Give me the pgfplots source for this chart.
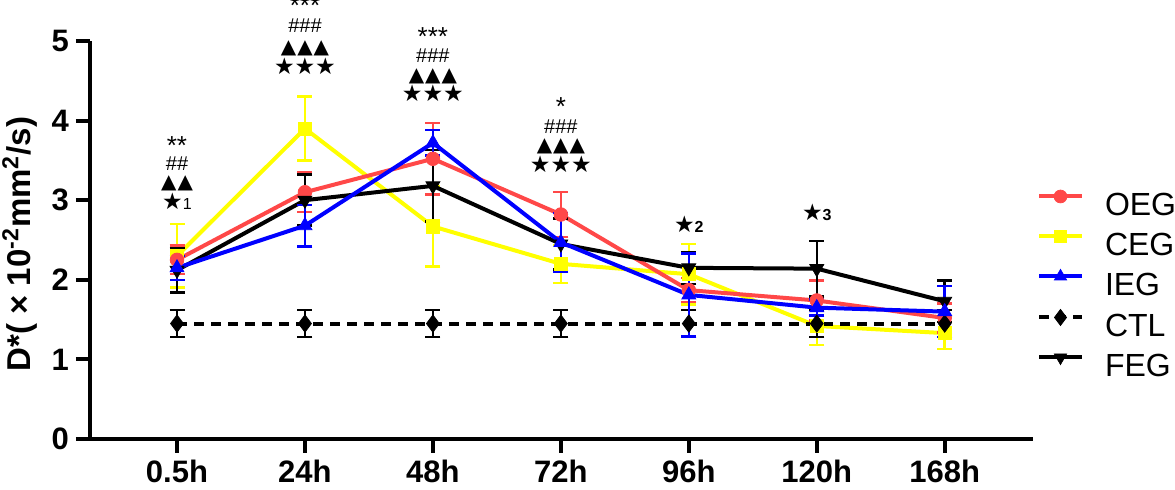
\documentclass[border=0pt]{standalone}
\usepackage{fontspec}
\setmainfont{Liberation Sans}
\newfontfamily\sym{DejaVu Sans}
\usepackage{pgfplots}
\usepackage{pgfplotstable}
\pgfplotsset{compat=1.18}
\definecolor{cred}{RGB}{255,72,72}
\definecolor{cyel}{RGB}{255,255,0}
\definecolor{cblue}{RGB}{0,0,255}

\pgfplotstableread{
x y e
0 2.25 0.18
1 3.10 0.25
2 3.52 0.45
3 2.82 0.28
4 1.87 0.15
5 1.74 0.25
6 1.52 0.18
}\oeg
\pgfplotstableread{
x y e
0 2.30 0.40
1 3.90 0.40
2 2.67 0.50
3 2.20 0.24
4 2.07 0.38
5 1.42 0.24
6 1.33 0.20
}\ceg
\pgfplotstableread{
x y e
0 2.15 0.15
1 2.68 0.26
2 3.72 0.16
3 2.47 0.37
4 1.81 0.52
5 1.65 0.10
6 1.60 0.32
}\ieg
\pgfplotstableread{
x y e
0 1.45 0.17
1 1.45 0.17
2 1.45 0.17
3 1.45 0.17
4 1.45 0.17
5 1.45 0.17
6 1.45 0.17
}\ctl
\pgfplotstableread{
x y e
0 2.12 0.28
1 3.00 0.32
2 3.18 0.45
3 2.45 0.32
4 2.15 0.20
5 2.14 0.35
6 1.73 0.26
}\feg

\newcommand{\stars}[1]{{\sym\fontsize{11.5}{12}\selectfont\ifcase#1\or ★\or ★★\or ★★★\fi}}
\newcommand{\tris}[1]{{\sym\ifcase#1\or ▲\or ▲\kern0.5pt▲\or ▲\kern0.5pt▲\kern0.5pt▲\fi}}

\begin{document}
\begin{tikzpicture}
\useasboundingbox (-45pt,-25.5pt) rectangle (542.5pt,219.5pt);
\begin{axis}[
  at={(0,0)}, anchor=south west,
  scale only axis, width=471.5pt, height=199pt,
  xmin=-0.68, xmax=6.69, ymin=0, ymax=5,
  axis lines*=left,
  axis line style={line width=2pt,-},
  xtick={0,...,6}, xticklabels={0.5h,24h,48h,72h,96h,120h,168h},
  ytick={0,...,5}, yticklabels={0,1,2,3,4,5},
  tick align=outside, major tick length=7pt,
  tick style={line width=2pt, black},
  ticklabel style={font=\fontsize{15.5}{18}\selectfont\bfseries},
  clip=false,
  every axis y label/.style={at={([xshift=-35pt]rel axis cs:0,0.49)}, rotate=90, anchor=center},
  ylabel={\fontsize{16.5}{19}\selectfont\bfseries D*( × 10\textsuperscript{-2}mm\textsuperscript{2}/s)},
  legend style={at={(rel axis cs:1,0.392)}, anchor=west, draw=none, fill=none,
    inner sep=0pt, outer sep=0pt, row sep=7pt, font=\fontsize{16}{19}\selectfont,
    nodes={inner sep=0pt, outer sep=0pt, text height=12pt, text depth=0pt}},
  legend cell align=left,
  legend image code/.code={
    \draw[mark repeat=2, mark phase=2, #1] plot coordinates {(2pt,3.5pt) (12.75pt,3.5pt) (23.5pt,3.5pt)};
    \path (0pt,6pt) (34pt,6pt);
  },
  every axis plot/.append style={line width=2pt},
  error bars/y dir=both, error bars/y explicit,
]
% drawing order: CEG, OEG, CTL, FEG, IEG
\addplot[cyel, mark=square*, mark size=3.3pt, mark options={line width=0.4pt},
  error bars/error bar style={line width=1.25pt, cyel},
  error bars/error mark options={rotate=90, mark size=3.75pt, line width=1.25pt, cyel}, forget plot]
  table[x=x, y=y, y error=e] {\ceg};
\addplot[cred, mark=*, mark size=3.4pt, mark options={line width=0.4pt},
  error bars/error bar style={line width=1.25pt, cred},
  error bars/error mark options={rotate=90, mark size=3.75pt, line width=1.25pt, cred}, forget plot]
  table[x=x, y=y, y error=e] {\oeg};
\addplot[black, dash pattern=on 5pt off 3.5pt, mark=diamond*, mark size=4.3pt, mark options={solid, line width=0.4pt},
  error bars/error bar style={line width=1.25pt, black, solid},
  error bars/error mark options={rotate=90, mark size=3.75pt, line width=1.25pt, black, solid}, forget plot]
  table[x=x, y=y, y error=e] {\ctl};
\addplot[black, mark=triangle*, mark size=4pt, mark options={rotate=180, line width=0.4pt},
  error bars/error bar style={line width=1.25pt, black},
  error bars/error mark options={rotate=90, mark size=3.75pt, line width=1.25pt, black}, forget plot]
  table[x=x, y=y, y error=e] {\feg};
\addplot[cblue, mark=triangle*, mark size=4pt, mark options={line width=0.4pt},
  error bars/error bar style={line width=1.25pt, cblue},
  error bars/error mark options={rotate=90, mark size=3.75pt, line width=1.25pt, cblue}, forget plot]
  table[x=x, y=y, y error=e] {\ieg};

\addlegendimage{cred, line width=2pt, mark=*, mark size=3.2pt, mark options={line width=0.4pt}}
\addlegendentry{OEG}
\addlegendimage{cyel, line width=2pt, mark=square*, mark size=3pt, mark options={line width=0.4pt}}
\addlegendentry{CEG}
\addlegendimage{cblue, line width=2pt, mark=triangle*, mark size=3.5pt, mark options={line width=0.4pt}}
\addlegendentry{IEG}
\addlegendimage{black, line width=2pt, dash pattern=on 5pt off 3.5pt, mark=diamond*, mark size=4pt, mark options={solid, line width=0.4pt}}
\addlegendentry{CTL}
\addlegendimage{black, line width=2pt, mark=triangle*, mark size=3.5pt, mark options={rotate=180, line width=0.4pt}}
\addlegendentry{FEG}

\tikzset{ann/.style={anchor=base, inner sep=0pt, text depth=0pt, font=\fontsize{10}{11}\selectfont},
         ast/.style={anchor=base, inner sep=0pt, text depth=0pt, font=\fontsize{13}{14}\selectfont}}
% 0.5h
\node[ast] at (axis cs:0,3.57) {**};
\node[ann] at (axis cs:0,3.379) {\#\#};
\node[ann] at (axis cs:0,3.141) {\tris{2}};
\node[ann] at (axis cs:0,2.877) {\stars{1}{\fontsize{8}{9}\selectfont 1}};
% 24h
\node[ast] at (axis cs:1,5.33) {***};
\node[ann] at (axis cs:1,5.101) {\#\#\#};
\node[ann] at (axis cs:1,4.849) {\tris{3}};
\node[ann] at (axis cs:1,4.573) {\stars{3}};
% 48h
\node[ast] at (axis cs:2,4.94) {***};
\node[ann] at (axis cs:2,4.736) {\#\#\#};
\node[ann] at (axis cs:2,4.485) {\tris{3}};
\node[ann] at (axis cs:2,4.234) {\stars{3}};
% 72h
\node[ast] at (axis cs:3,4.06) {*};
\node[ann] at (axis cs:3,3.844) {\#\#\#};
\node[ann] at (axis cs:3,3.606) {\tris{3}};
\node[ann] at (axis cs:3,3.342) {\stars{3}};
% 96h, 120h
\node[ann] at (axis cs:4,2.600) {\stars{1}{\fontsize{8}{9}\selectfont\bfseries 2}};
\node[ann] at (axis cs:5,2.751) {\stars{1}{\fontsize{8}{9}\selectfont\bfseries 3}};
\end{axis}
\end{tikzpicture}
\end{document}
